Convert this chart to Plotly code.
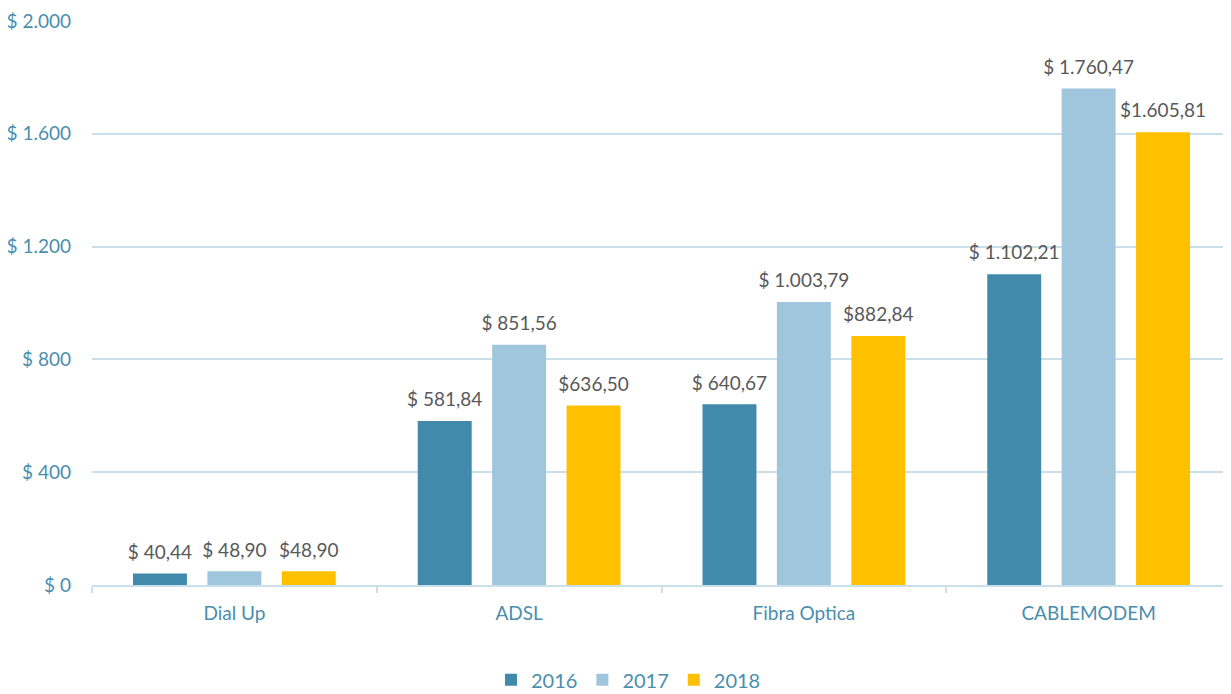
import plotly.graph_objects as go

categories = ["Dial Up", "ADSL", "Fibra Optica", "CABLEMODEM"]
years = ["2016", "2017", "2018"]
values_2016 = [40.44, 581.84, 640.67, 1102.21]
values_2017 = [48.90, 851.56, 1003.79, 1760.47]
values_2018 = [48.90, 636.50, 882.84, 1605.81]
labels_2016 = ["$ 40,44", "$ 581,84", "$ 640,67", "$ 1.102,21"]
labels_2017 = ["$ 48,90", "$ 851,56", "$ 1.003,79", "$ 1.760,47"]
labels_2018 = ["$48,90", "$636,50", "$882,84", "$1.605,81"]
tick_vals = [0, 400, 800, 1200, 1600, 2000]
tick_text = ["$ 0", "$ 400", "$ 800", "$ 1.200", "$ 1.600", "$ 2.000"]

colors = ["#418AAB", "#A0C6DD", "#FFC000"]
FONT = "Lato, Open Sans, sans-serif"
AXIS_BLUE = "#4A8EAE"

fig = go.Figure()
for name, vals, labs, col in zip(years, [values_2016, values_2017, values_2018],
                                 [labels_2016, labels_2017, labels_2018], colors):
    fig.add_trace(go.Bar(
        name=name, x=categories, y=vals,
        text=["<span style='font-size:19px'>" + l + "</span><br>"
              "<span style='font-size:1px'> </span>" for l in labs],
        textposition="outside", cliponaxis=False, constraintext="none",
        textfont=dict(color="#595959", size=9, family=FONT),
        marker=dict(color=col, line=dict(width=0)),
    ))

# page body has an 8px margin, so the figure is sized/offset to compensate
fig.update_layout(
    width=1223, height=686,
    barmode="group", bargap=0.216, bargroupgap=0.275,
    plot_bgcolor="white", paper_bgcolor="white",
    margin=dict(l=84, r=0, t=13, b=109, autoexpand=False),
    font=dict(family=FONT, color=AXIS_BLUE),
    legend=dict(orientation="h", yref="paper",
                x=0.471, xanchor="center", y=-0.168, yanchor="middle",
                font=dict(size=20, color=AXIS_BLUE, family=FONT),
                itemwidth=30, traceorder="normal"),
)
fig.update_yaxes(range=[0, 2000], tickvals=tick_vals, ticktext=tick_text,
                 showgrid=True, gridcolor="#C9DFEA", gridwidth=2,
                 zeroline=False, showline=False, ticks="", automargin=False,
                 tickfont=dict(size=19, color=AXIS_BLUE, family=FONT),
                 ticklabelstandoff=20)
fig.update_xaxes(showline=True, linecolor="#C9DFEA", linewidth=2,
                 ticks="outside", tickson="boundaries", ticklen=6,
                 tickcolor="#C9DFEA", tickwidth=2, automargin=False,
                 ticklabelstandoff=10,
                 tickfont=dict(size=19, color=AXIS_BLUE, family=FONT))

fig.write_html("out.html")
